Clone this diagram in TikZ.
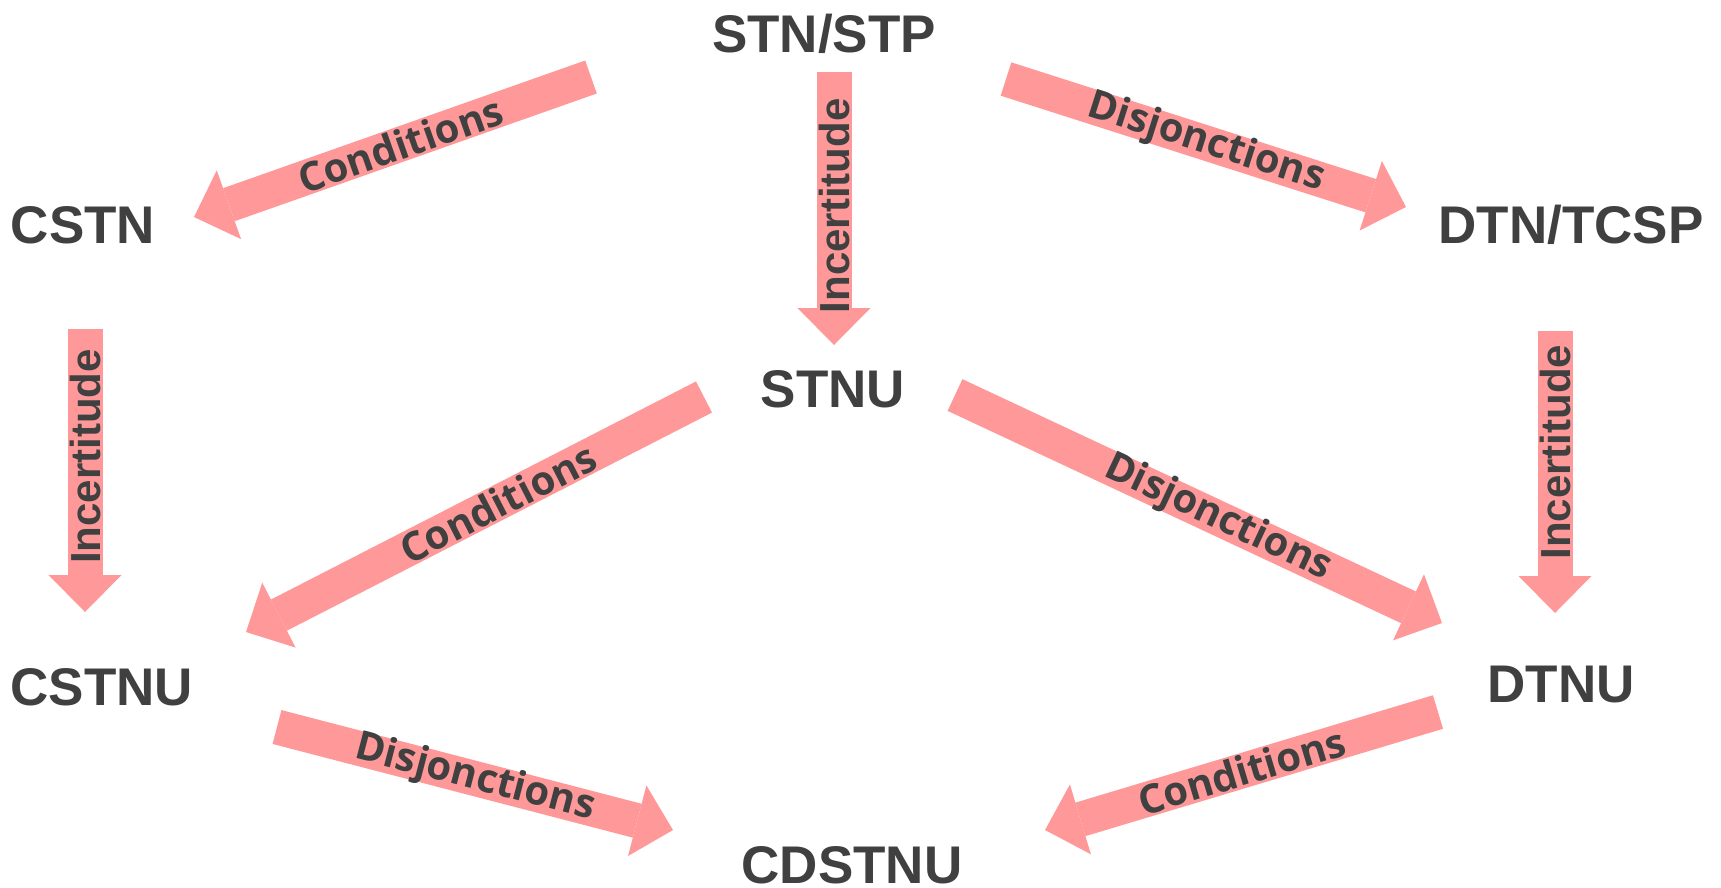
\documentclass[tikz,border=0pt]{standalone}
\usepackage{fontspec}
\setmainfont{Liberation Sans}
\newfontfamily\lblfont{Open Sans}
\usetikzlibrary{arrows.meta}
\definecolor{txt}{HTML}{404040}
\definecolor{arr}{HTML}{FF9999}
\begin{document}
\begin{tikzpicture}[x=1pt,y=-1pt,
  term/.style={font=\bfseries\fontsize{53}{60}\selectfont, text=txt, inner sep=0pt, anchor=base},
  bigarrow/.style={draw=arr, line width=35pt, -{Triangle[length=37pt,width=73pt,line width=0pt]}},
  albl/.style={font=\lblfont\bfseries\fontsize{40}{44}\selectfont, text=txt, inner sep=0pt, sloped},
  vlbl/.style={font=\bfseries\fontsize{42}{46}\selectfont, text=txt, inner sep=0pt, rotate=90},
]
\useasboundingbox (0,0) rectangle (1721,887);

% terms
\node[term] (stn)   at (824,52)  {STN/STP};
\node[term] (cstn)  at (83,243)  {CSTN};
\node[term] (dtn)   at (1571,243) {DTN/TCSP};
\node[term] (stnu)  at (833,407) {STNU};
\node[term] (cstnu) at (102,705) {CSTNU};
\node[term] (dtnu)  at (1561,702) {DTNU};
\node[term] (cdstnu) at (852,883) {CDSTNU};

% arrow end points
\coordinate (a1s) at (591,77);   \coordinate (a1e) at (194,217);
\coordinate (a2s) at (834,72);   \coordinate (a2e) at (834,345);
\coordinate (a3s) at (1006,79);  \coordinate (a3e) at (1406,207);
\coordinate (a4s) at (85,329);   \coordinate (a4e) at (85,612);
\coordinate (a5s) at (704,397);  \coordinate (a5e) at (246,632);
\coordinate (a6s) at (955,395);  \coordinate (a6e) at (1442,623);
\coordinate (a7s) at (1555,331); \coordinate (a7e) at (1555,613);
\coordinate (a8s) at (277,727);  \coordinate (a8e) at (673,830);
\coordinate (a9s) at (1438,712); \coordinate (a9e) at (1045,830);

\draw[bigarrow] (a1s) -- node[albl, pos=0.48] (l1) {Conditions} (a1e);
\draw[bigarrow] (a2s) -- node[vlbl, pos=0.49] (l2) {Incertitude} (a2e);
\draw[bigarrow] (a3s) -- node[albl, pos=0.5] (l3) {Disjonctions} (a3e);
\draw[bigarrow] (a4s) -- node[vlbl, pos=0.45] (l4) {Incertitude} (a4e);
\draw[bigarrow] (a5s) -- node[albl, pos=0.45] (l5) {Conditions} (a5e);
\draw[bigarrow] (a6s) -- node[albl, pos=0.54] (l6) {Disjonctions} (a6e);
\draw[bigarrow] (a7s) -- node[vlbl, pos=0.43] (l7) {Incertitude} (a7e);
\draw[bigarrow] (a8s) -- node[albl, pos=0.5] (l8) {Disjonctions} (a8e);
\draw[bigarrow] (a9s) -- node[albl, pos=0.5] (l9) {Conditions} (a9e);
\end{tikzpicture}
\end{document}
